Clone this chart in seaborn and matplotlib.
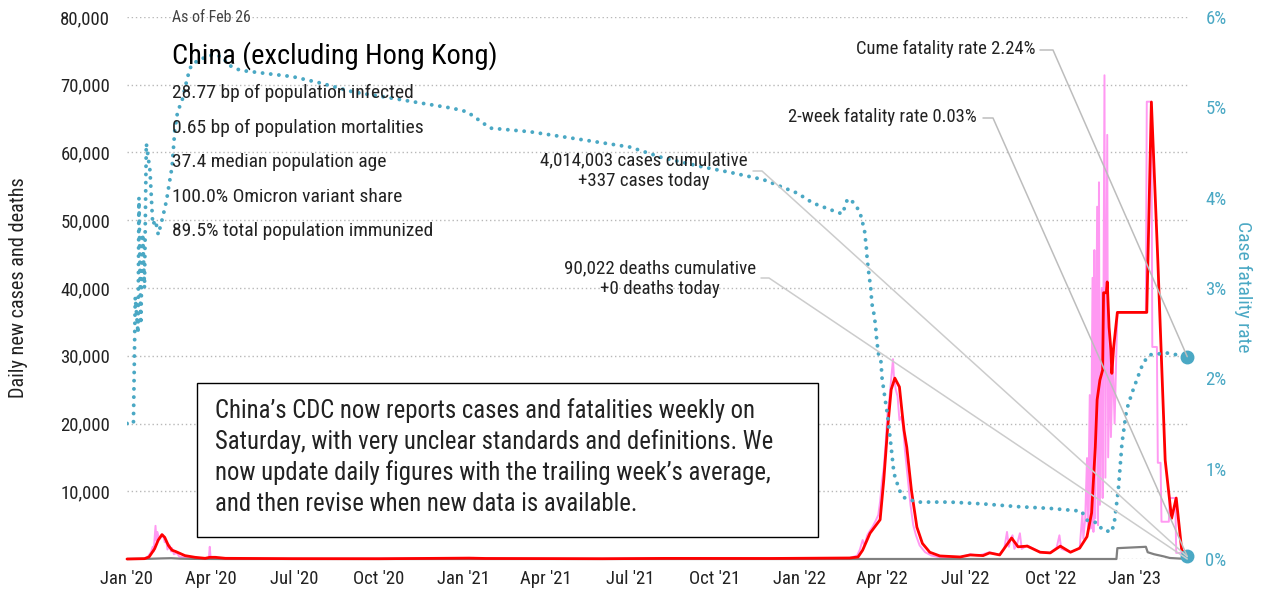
import pandas as pd
import matplotlib
matplotlib.use("Agg")
import matplotlib.pyplot as plt
import matplotlib.dates as mdates
from matplotlib import font_manager
from matplotlib.patches import Rectangle
from matplotlib.lines import Line2D
import seaborn as sns

# daily new cases (raw, pink)
raw_dates = ["2020-01-01", "2020-01-20", "2020-01-24", "2020-01-27", "2020-01-29", "2020-01-30",
             "2020-02-01", "2020-02-02", "2020-02-03", "2020-02-05", "2020-02-07", "2020-02-09",
             "2020-02-11", "2020-02-13", "2020-02-14", "2020-02-16", "2020-02-18", "2020-02-19",
             "2020-02-21", "2020-02-24", "2020-02-27", "2020-03-06", "2020-03-20", "2020-03-30",
             "2020-03-31", "2020-04-01", "2020-04-20", "2020-08-01", "2021-01-05", "2021-01-12",
             "2021-01-25", "2021-06-01", "2021-08-05", "2021-11-01", "2022-01-15", "2022-02-25",
             "2022-03-05", "2022-03-08", "2022-03-11", "2022-03-13", "2022-03-16", "2022-03-19",
             "2022-03-22", "2022-03-25", "2022-03-28", "2022-03-30", "2022-04-01", "2022-04-03",
             "2022-04-05", "2022-04-07", "2022-04-09", "2022-04-11", "2022-04-13", "2022-04-14",
             "2022-04-16", "2022-04-18", "2022-04-20", "2022-04-22", "2022-04-24", "2022-04-26",
             "2022-04-29", "2022-05-02", "2022-05-05", "2022-05-08", "2022-05-12", "2022-05-18",
             "2022-05-25", "2022-06-05", "2022-06-25", "2022-07-06", "2022-07-15", "2022-07-27",
             "2022-08-07", "2022-08-12", "2022-08-15", "2022-08-17", "2022-08-19", "2022-08-21",
             "2022-08-23", "2022-08-26", "2022-08-29", "2022-08-31", "2022-09-06", "2022-09-20",
             "2022-10-01", "2022-10-08", "2022-10-11", "2022-10-13", "2022-10-23", "2022-11-02",
             "2022-11-05", "2022-11-06", "2022-11-08", "2022-11-10", "2022-11-11", "2022-11-13",
             "2022-11-14", "2022-11-16", "2022-11-17", "2022-11-18", "2022-11-19", "2022-11-21",
             "2022-11-22", "2022-11-23", "2022-11-24", "2022-11-26", "2022-11-27", "2022-11-29",
             "2022-11-30", "2022-12-02", "2022-12-03", "2022-12-05", "2022-12-06", "2022-12-08",
             "2022-12-10", "2022-12-13", "2023-01-13", "2023-01-14", "2023-01-19", "2023-01-20",
             "2023-01-25", "2023-01-26", "2023-01-29", "2023-01-30", "2023-02-07", "2023-02-08",
             "2023-02-14", "2023-02-15", "2023-02-25", "2023-02-27"]
raw_cases = [0, 50, 400, 1000, 1800, 1100,
             4900, 2700, 4000, 2900, 3200, 3600,
             2500, 2400, 1400, 2100, 1100, 1600,
             700, 900, 350, 150, 50, 80,
             1800, 60, 40, 30, 100, 160,
             60, 30, 90, 60, 120, 150,
             500, 1400, 2800, 2000, 3500, 4200,
             4800, 5600, 6500, 8500, 11500, 13500,
             17000, 21500, 23500, 26500, 29500, 27000,
             25000, 24000, 20500, 21000, 19500, 16000,
             12000, 8000, 5000, 3500, 2000, 1000,
             500, 200, 250, 700, 500, 1000,
             600, 1500, 4000, 1800, 3000, 3500,
             1500, 2200, 3800, 1500, 2000, 1000,
             900, 1700, 3500, 1500, 1000, 1600,
             6800, 3000, 5800, 14900, 4000, 24200,
             4500, 41500, 4000, 45600, 6000, 52000,
             5000, 55600, 8000, 40000, 9000, 71400,
             12000, 62600, 15000, 32000, 18000, 30000,
             20000, 36400, 36400, 67500, 67500, 31300,
             31300, 14200, 14200, 5500, 5500, 9000,
             9000, 900, 900, 337]

# 7-day average of new cases (red)
avg_dates = ["2020-01-01", "2020-01-20", "2020-01-25", "2020-01-31", "2020-02-04", "2020-02-08",
             "2020-02-11", "2020-02-15", "2020-02-19", "2020-02-23", "2020-03-04", "2020-03-15",
             "2020-03-26", "2020-03-31", "2020-04-06", "2020-04-17", "2020-06-28", "2020-10-01",
             "2021-01-07", "2021-01-25", "2021-06-01", "2021-08-08", "2021-12-01", "2022-02-25",
             "2022-03-06", "2022-03-11", "2022-03-19", "2022-03-30", "2022-04-03", "2022-04-07",
             "2022-04-11", "2022-04-15", "2022-04-20", "2022-04-23", "2022-04-25", "2022-04-28",
             "2022-05-03", "2022-05-09", "2022-05-15", "2022-05-23", "2022-06-03", "2022-06-25",
             "2022-07-06", "2022-07-20", "2022-07-27", "2022-08-07", "2022-08-20", "2022-08-27",
             "2022-09-06", "2022-09-20", "2022-10-01", "2022-10-12", "2022-10-23", "2022-11-02",
             "2022-11-10", "2022-11-15", "2022-11-19", "2022-11-21", "2022-11-24", "2022-11-27",
             "2022-11-28", "2022-12-01", "2022-12-02", "2022-12-04", "2022-12-06", "2022-12-07",
             "2022-12-09", "2022-12-13", "2023-01-14", "2023-01-19", "2023-01-26", "2023-02-03",
             "2023-02-10", "2023-02-15", "2023-02-21", "2023-02-27"]
avg_cases = [0, 50, 300, 1500, 2800, 3600,
             3200, 2000, 1300, 1100, 500, 250,
             100, 250, 250, 100, 50, 40,
             130, 80, 40, 90, 80, 150,
             300, 1300, 3800, 5800, 11700, 19000,
             25000, 26700, 25400, 21500, 19000, 16500,
             10200, 4700, 2300, 1000, 450, 300,
             600, 500, 900, 600, 3100, 1800,
             1900, 1000, 900, 1900, 1000, 1600,
             3300, 6800, 16500, 23500, 26400, 27900,
             39300, 39300, 40900, 34200, 30800, 27400,
             31300, 36400, 36400, 67450, 44100, 14600,
             6000, 9000, 1300, 300]

# daily deaths (gray)
death_dates = ["2020-01-01", "2020-01-25", "2020-02-08", "2020-02-18", "2020-02-28", "2020-03-15",
               "2020-04-15", "2022-12-12", "2022-12-13", "2023-01-13", "2023-01-15", "2023-01-22",
               "2023-02-01", "2023-02-08", "2023-02-27"]
deaths = [0, 30, 90, 120, 50, 15,
          0, 0, 1600, 1800, 1000, 700,
          400, 150, 0]

# cumulative case fatality rate, % (teal dotted, right axis)
cfr_dates = ["2020-01-01", "2020-01-08", "2020-01-10", "2020-01-13", "2020-01-14", "2020-01-16",
             "2020-01-18", "2020-01-20", "2020-01-22", "2020-01-26", "2020-01-29", "2020-02-01",
             "2020-02-04", "2020-02-09", "2020-02-13", "2020-02-16", "2020-02-19", "2020-02-22",
             "2020-02-25", "2020-03-01", "2020-03-07", "2020-03-11", "2020-03-20", "2020-04-03",
             "2020-04-14", "2020-04-20", "2020-05-03", "2020-06-04", "2020-06-29", "2020-07-29",
             "2020-09-03", "2020-10-10", "2020-11-14", "2020-12-20", "2021-01-05", "2021-01-30",
             "2021-03-14", "2021-05-11", "2021-07-01", "2021-08-06", "2021-09-18", "2021-10-18",
             "2021-11-23", "2021-12-30", "2022-01-16", "2022-02-11", "2022-02-17", "2022-02-22",
             "2022-02-25", "2022-03-03", "2022-03-08", "2022-03-11", "2022-03-13", "2022-03-15",
             "2022-03-16", "2022-03-18", "2022-03-20", "2022-03-21", "2022-03-23", "2022-03-25",
             "2022-03-26", "2022-03-28", "2022-03-31", "2022-04-01", "2022-04-03", "2022-04-05",
             "2022-04-07", "2022-04-11", "2022-04-14", "2022-04-20", "2022-04-25", "2022-05-09",
             "2022-06-14", "2022-07-20", "2022-08-26", "2022-10-01", "2022-11-04", "2022-11-10",
             "2022-11-21", "2022-11-27", "2022-12-07", "2022-12-10", "2022-12-14", "2022-12-18",
             "2022-12-23", "2022-12-29", "2023-01-03", "2023-01-10", "2023-01-17", "2023-02-05",
             "2023-02-27"]
cfr_pct = [1.5, 1.5, 2.9, 2.5, 4.0, 2.6,
           3.6, 3.0, 4.6, 4.3, 3.7, 3.75,
           3.59, 3.79, 3.97, 4.16, 4.34, 4.75,
           4.95, 5.08, 5.34, 5.47, 5.53, 5.58,
           5.56, 5.47, 5.41, 5.37, 5.34, 5.27,
           5.17, 5.11, 5.05, 4.99, 4.95, 4.77,
           4.73, 4.64, 4.56, 4.44, 4.34, 4.28,
           4.2, 4.05, 3.94, 3.84, 3.82, 3.97,
           3.99, 3.92, 3.84, 3.72, 3.64, 3.45,
           3.31, 3.14, 2.98, 2.83, 2.73, 2.59,
           2.46, 2.28, 2.18, 2.01, 1.87, 1.73,
           1.6, 1.24, 0.95, 0.76, 0.68, 0.63,
           0.63, 0.61, 0.58, 0.56, 0.53, 0.43,
           0.40, 0.32, 0.30, 0.43, 0.76, 1.28,
           1.65, 1.84, 1.98, 2.17, 2.26, 2.28,
           2.24]

end_date = "2023-02-27"
cume_cfr = 2.24
week_cfr = 0.03
cases_today = 337

stat_lines = ["28.77 bp of population infected",
              "0.65 bp of population mortalities",
              "37.4 median population age",
              "100.0% Omicron variant share",
              "89.5% total population immunized"]
note_lines = ["China\u2019s CDC now reports cases and fatalities weekly on",
              "Saturday, with very unclear standards and definitions. We",
              "now update daily figures with the trailing week\u2019s average,",
              "and then revise when new data is available."]

PINK = "#ff99f2"
RED = "#ff0000"
GRAY = "#808080"
TEAL = "#4aa8c4"
TXT = "#222222"

sns.set_theme(style="white")
names = {f.name for f in font_manager.fontManager.ttflist}
FONT = "DejaVu Sans"
for cand in ["Liberation Sans Narrow", "Roboto Condensed", "Open Sans Condensed", "Arial Narrow"]:
    if cand in names:
        FONT = cand
        break
plt.rcParams["font.family"] = [FONT, "DejaVu Sans"]
if FONT == "DejaVu Sans":
    plt.rcParams["font.stretch"] = "condensed"

W, H = 1263, 600
fig = plt.figure(figsize=(W / 100, H / 100), dpi=100)
fig.patch.set_facecolor("white")
ax = fig.add_axes([127 / W, 41 / H, (1190 - 127) / W, 542 / H])


def fxy(px, py):
    return px / W, 1 - py / H


sns.lineplot(x=pd.to_datetime(raw_dates), y=raw_cases, ax=ax, color=PINK, lw=1.4, clip_on=False)
sns.lineplot(x=pd.to_datetime(death_dates), y=deaths, ax=ax, color=GRAY, lw=1.6, clip_on=False)
sns.lineplot(x=pd.to_datetime(avg_dates), y=avg_cases, ax=ax, color=RED, lw=2.0, clip_on=False)

ax.set_xlim(pd.Timestamp("2020-01-01"), pd.Timestamp("2023-03-02"))
ax.set_ylim(0, 80000)
ax.set_yticks(range(0, 80001, 10000))
ax.set_yticklabels([""] + [f"{v:,}" for v in range(10000, 80001, 10000)])
ax.xaxis.set_major_locator(mdates.MonthLocator(bymonth=[1, 4, 7, 10]))
ax.xaxis.set_major_formatter(mdates.DateFormatter("%b '%y"))
ax.tick_params(axis="x", length=0, pad=8, labelsize=13.5, labelcolor=TXT)
ax.tick_params(axis="y", length=0, pad=12, labelsize=13.5, labelcolor=TXT)
ax.grid(axis="y", color="#b8b8b8", lw=1.0, linestyle=(0, (1, 2)))
ax.grid(axis="x", visible=False)
ax.set_xlabel("")
ax.set_ylabel("")
for s in ax.spines.values():
    s.set_visible(False)

ax2 = ax.twinx()
sns.lineplot(x=pd.to_datetime(cfr_dates), y=cfr_pct, ax=ax2, color=TEAL, lw=2.8,
             linestyle=(0, (0.01, 2.1)), dash_capstyle="round")
end_num = pd.Timestamp(end_date)
ax2.plot([end_num, end_num], [cume_cfr, week_cfr], ls="none", marker="o", ms=9,
         color=TEAL, clip_on=False, zorder=5)
ax2.set_ylim(0, 6)
ax2.set_yticks(range(0, 7))
ax2.set_yticklabels([f"{v}%" for v in range(0, 7)])
ax2.tick_params(axis="y", length=0, pad=11, labelsize=13.5, labelcolor=TEAL)
ax2.grid(False)
ax2.set_ylabel("")
for s in ax2.spines.values():
    s.set_visible(False)

# axis titles
fig.text(*fxy(19, 288), "Daily new cases and deaths", rotation=90, ha="center", va="center",
         fontsize=14.6, color=TXT)
fig.text(*fxy(1243, 287), "Case fatality rate", rotation=270, ha="center", va="center",
         fontsize=14, color=TEAL)

# header block
fig.text(*fxy(172, 17), "As of Feb 26", ha="left", va="center", fontsize=11.4, color="#444444")
fig.text(*fxy(172, 56), "China (excluding Hong Kong)", ha="left", va="center", fontsize=20.4,
         color="black")
for i, line in enumerate(stat_lines):
    fig.text(*fxy(172, 93 + 34.5 * i), line, ha="left", va="center", fontsize=14, color=TXT)

# note box
fig.add_artist(Rectangle(fxy(197, 537), (818 - 197) / W, (537 - 383) / H,
                         transform=fig.transFigure, facecolor="white", edgecolor="black", lw=1.0))
for i, line in enumerate(note_lines):
    fig.text(*fxy(215, 411 + 31 * i), line, ha="left", va="center", fontsize=17.8, color=TXT)

# callouts with leader lines
inv = fig.transFigure.inverted()
t_cume = inv.transform(ax2.transData.transform((mdates.date2num(end_num), cume_cfr)))
t_week = inv.transform(ax2.transData.transform((mdates.date2num(end_num), week_cfr)))
t_case = inv.transform(ax.transData.transform((mdates.date2num(end_num), cases_today)))
t_death = inv.transform(ax.transData.transform((mdates.date2num(end_num), 0)))

callouts = [
    ("Cume fatality rate 2.24%", 1035, 49, "right", 1040, 1053, t_cume),
    ("2-week fatality rate 0.03%", 977, 117, "right", 983, 993, t_week),
]
for text, tx, ty, ha, l0, l1, tgt in callouts:
    fig.text(*fxy(tx, ty), text, ha=ha, va="center", fontsize=13.4, color=TXT)
    a = fxy(l0, ty + 1)
    b = fxy(l1, ty + 1)
    fig.add_artist(Line2D([a[0], b[0], tgt[0]], [a[1], b[1], tgt[1]], color="#bdbdbd", lw=1.1,
                          transform=fig.transFigure))

fig.text(*fxy(644, 171), "4,014,003 cases cumulative\n+337 cases today", ha="center",
         va="center", ma="center", fontsize=13.7, color=TXT, linespacing=1.2)
a, b = fxy(753, 171), fxy(762, 171)
fig.add_artist(Line2D([a[0], b[0], t_case[0]], [a[1], b[1], t_case[1]], color="#cccccc", lw=1.1,
                      transform=fig.transFigure))
fig.text(*fxy(660, 279), "90,022 deaths cumulative\n+0 deaths today", ha="center",
         va="center", ma="center", fontsize=13.7, color=TXT, linespacing=1.2)
a, b = fxy(761, 278), fxy(769, 278)
fig.add_artist(Line2D([a[0], b[0], t_death[0]], [a[1], b[1], t_death[1]], color="#cccccc", lw=1.1,
                      transform=fig.transFigure))

fig.savefig("out.png", dpi=100)
